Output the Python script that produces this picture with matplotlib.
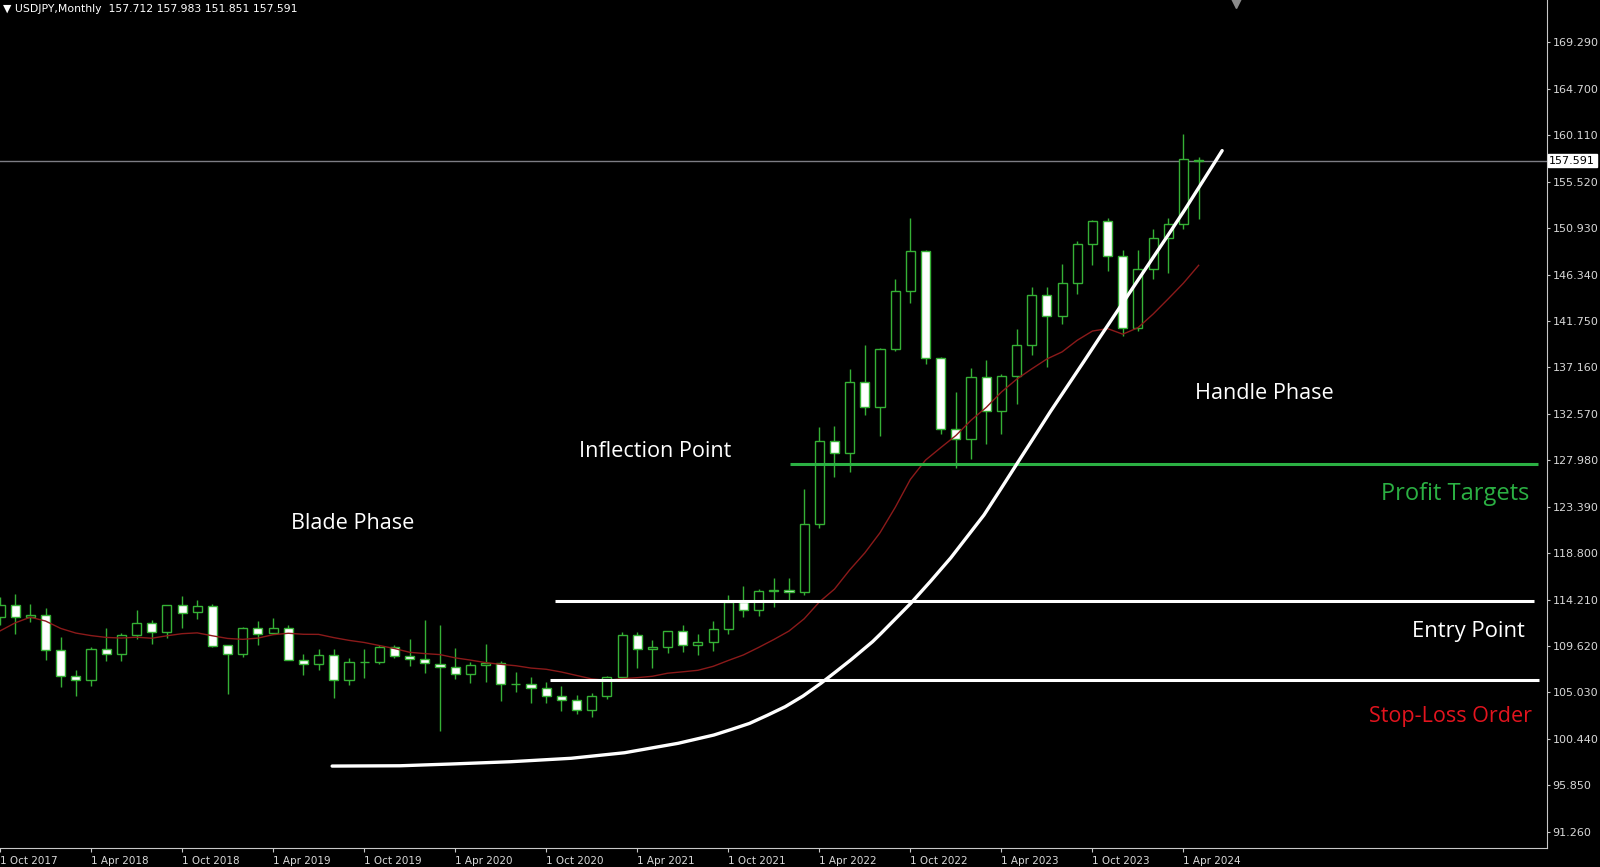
import matplotlib.pyplot as plt

# Velas mensuales USDJPY, de Oct 2017 a May 2024 (índice 0 = Oct 2017)
opens = [112.47, 113.66, 112.53,
         112.68, 109.18, 106.68, 106.26, 109.32, 108.79, 110.72, 111.86, 111.02, 113.69, 112.94, 113.55,
         109.68, 108.87, 111.38, 110.86, 111.43, 108.28, 107.85, 108.73, 106.28, 108.08, 108.03, 109.48,
         108.61, 108.37, 107.89, 107.53, 106.90, 107.78, 107.93, 105.83, 105.88, 105.48, 104.66, 104.30,
         103.25, 104.68, 106.58, 110.72, 109.31, 109.57, 111.11, 109.72, 110.03, 111.29, 113.95, 113.17,
         115.08, 115.12, 115.00, 121.70, 129.84, 128.67, 135.72, 133.26, 138.97, 144.74, 148.71, 138.05,
         131.12, 130.09, 136.18, 132.86, 136.31, 139.34, 144.31, 142.29, 145.54, 149.37, 151.68, 148.20,
         141.03, 146.91, 149.98, 151.35, 157.71]
highs = [114.45, 114.73, 113.75,
         113.39, 110.48, 107.29, 109.56, 111.40, 110.90, 113.18, 112.15, 113.70, 114.55, 114.21, 113.82,
         109.73, 111.49, 112.13, 112.40, 111.69, 108.80, 109.32, 109.30, 108.48, 109.29, 109.73, 109.70,
         110.29, 112.22, 111.71, 109.38, 108.08, 109.85, 108.16, 107.05, 106.55, 106.11, 105.68, 104.75,
         104.94, 106.69, 110.97, 110.96, 110.20, 111.12, 111.66, 110.80, 112.08, 114.70, 115.52, 115.21,
         116.35, 116.34, 125.10, 131.26, 131.35, 137.00, 139.39, 139.08, 145.90, 151.95, 148.82, 138.18,
         134.78, 137.10, 137.92, 136.56, 140.93, 145.07, 145.07, 147.37, 149.71, 151.72, 151.91, 148.80,
         148.81, 150.89, 151.97, 160.21, 157.98]
lows = [111.65, 110.84, 111.98,
        108.28, 105.55, 104.63, 105.66, 108.11, 108.12, 110.27, 109.77, 110.38, 111.38, 112.30, 109.54,
        104.87, 108.50, 109.70, 110.84, 108.27, 106.78, 107.22, 104.45, 105.74, 106.48, 107.89, 108.42,
        107.65, 107.00, 101.18, 106.36, 105.99, 106.07, 104.19, 105.10, 104.00, 104.03, 103.18, 102.88,
        102.59, 104.40, 106.36, 107.47, 107.48, 108.94, 109.07, 108.72, 109.11, 110.82, 112.53, 112.56,
        113.47, 114.15, 114.65, 121.28, 126.36, 126.86, 132.50, 130.39, 138.77, 143.53, 137.50, 130.57,
        127.22, 128.08, 129.64, 130.63, 133.50, 138.43, 137.24, 141.50, 144.44, 147.31, 146.67, 140.25,
        140.81, 145.90, 146.48, 150.81, 151.85]
closes = [113.67, 112.53, 112.67,
          109.18, 106.66, 106.27, 109.31, 108.81, 110.72, 111.85, 111.02, 113.69, 112.93, 113.56, 109.67,
          108.87, 111.39, 110.85, 111.42, 108.27, 107.84, 108.73, 106.27, 108.07, 108.03, 109.49, 108.68,
          108.37, 107.90, 107.53, 106.90, 107.77, 107.93, 105.83, 105.88, 105.48, 104.66, 104.30, 103.25,
          104.68, 106.58, 110.72, 109.31, 109.57, 111.11, 109.72, 110.03, 111.29, 113.95, 113.17, 115.08,
          115.12, 115.00, 121.70, 129.84, 128.67, 135.72, 133.26, 138.97, 144.74, 148.71, 138.05, 131.12,
          130.09, 136.18, 132.86, 136.31, 139.34, 144.31, 142.29, 145.54, 149.37, 151.68, 148.20, 141.03,
          146.91, 149.98, 151.35, 157.80, 157.59]
# media movil (linea roja)
ma14 = [111.11, 111.91, 112.47,
        112.09, 111.36, 110.90, 110.65, 110.47, 110.41, 110.49, 110.39, 110.63, 110.84, 110.92, 110.63,
        110.37, 110.28, 110.40, 110.74, 110.88, 110.78, 110.77, 110.45, 110.18, 109.97, 109.67, 109.37,
        109.00, 108.87, 108.77, 108.45, 108.23, 107.98, 107.81, 107.67, 107.44, 107.32, 107.05, 106.71,
        106.37, 106.22, 106.39, 106.49, 106.63, 106.93, 107.07, 107.22, 107.61, 108.19, 108.74, 109.48,
        110.26, 111.10, 112.31, 113.97, 115.25, 117.14, 118.83, 120.82, 123.32, 126.09, 128.00, 129.23,
        130.43, 131.94, 133.21, 134.73, 135.99, 137.02, 138.00, 138.70, 139.85, 140.76, 141.00, 140.45,
        141.09, 142.44, 143.95, 145.50, 147.26]

x_ticks = [0, 6, 12, 18, 24, 30, 36, 42, 48, 54, 60, 66, 72, 78]
x_labels = ['1 Oct 2017', '1 Apr 2018', '1 Oct 2018', '1 Apr 2019', '1 Oct 2019', '1 Apr 2020',
            '1 Oct 2020', '1 Apr 2021', '1 Oct 2021', '1 Apr 2022', '1 Oct 2022', '1 Apr 2023',
            '1 Oct 2023', '1 Apr 2024']
y_ticks = [91.26, 95.85, 100.44, 105.03, 109.62, 114.21, 118.80, 123.39, 127.98,
           132.57, 137.16, 141.75, 146.34, 150.93, 155.52, 160.11, 164.70, 169.29]
bid = 157.591
header = 'USDJPY,Monthly  157.712 157.983 151.851 157.591'

# niveles horizontales dibujados a mano
level_prices = [127.65, 114.07, 106.26]
level_start = [52.06, 36.59, 36.26]
level_end = [101.37, 101.11, 101.44]
level_colors = ['#2bb043', 'white', 'white']

# curva blanca (forma de "hockey stick")
curve_x = [21.89, 26.36, 29.65, 33.65, 37.64, 41.17, 44.69, 47.05, 48.22, 49.40, 50.57,
           51.75, 52.92, 54.10, 55.04, 56.08, 57.51, 58.05, 60.03, 61.34, 62.66, 63.76,
           64.85, 65.95, 67.05, 68.14, 69.24, 70.34, 71.44, 72.53, 73.63, 74.73, 75.83,
           76.93, 78.02, 79.33, 80.55]
curve_y = [97.75, 97.78, 97.95, 98.18, 98.52, 99.07, 100.00, 100.82, 101.38, 101.97, 102.77,
           103.62, 104.67, 105.93, 107.02, 108.25, 110.05, 110.84, 113.85, 116.04, 118.33, 120.46,
           122.57, 125.12, 127.70, 130.24, 132.82, 135.29, 137.76, 140.24, 142.71, 145.18, 147.65,
           150.12, 152.60, 155.70, 158.60]

fig = plt.figure(figsize=(16, 8.67), dpi=100, facecolor='black')
ax = fig.add_axes([0, 19 / 867, 1547 / 1600, 848 / 867], facecolor='black')

green = '#35b035'
xs = list(range(len(opens)))
bottoms = [min(o, c) for o, c in zip(opens, closes)]
heights = [abs(c - o) for o, c in zip(opens, closes)]
fills = ['black' if c >= o else 'white' for o, c in zip(opens, closes)]

# velas
ax.vlines(xs, lows, highs, color=green, lw=1, zorder=2)
ax.bar(xs, heights, bottom=bottoms, width=0.6, color=fills, edgecolor=green, linewidth=1, zorder=3)

# media movil
ax.plot(xs, ma14, color='#8b1a1a', lw=1, zorder=4)

# linea del precio actual
ax.axhline(bid, color='#7d7d84', lw=1, zorder=1)

# niveles y curva
ax.hlines(level_prices, level_start, level_end, colors=level_colors, lw=2.2, zorder=5)
ax.plot(curve_x, curve_y, color='white', lw=2.4, zorder=6, solid_capstyle='round',
        solid_joinstyle='round')

# textos
fnt = 'Open Sans'
ax.text(0.2282, 1 - 529 / 848, 'Blade Phase', transform=ax.transAxes, color='white',
        fontsize=15.6, family=fnt, ha='center', va='baseline')
ax.text(0.4234, 1 - 457 / 848, 'Inflection Point', transform=ax.transAxes, color='white',
        fontsize=15.6, family=fnt, ha='center', va='baseline')
ax.text(0.8171, 1 - 399 / 848, 'Handle Phase', transform=ax.transAxes, color='white',
        fontsize=15.6, family=fnt, ha='center', va='baseline')
ax.text(0.9409, 1 - 500 / 848, 'Profit Targets', transform=ax.transAxes, color='#2bb043',
        fontsize=17, family=fnt, ha='center', va='baseline')
ax.text(0.9489, 1 - 637 / 848, 'Entry Point', transform=ax.transAxes, color='white',
        fontsize=15.8, family=fnt, ha='center', va='baseline')
ax.text(0.9373, 1 - 722 / 848, 'Stop-Loss Order', transform=ax.transAxes, color='#e3141e',
        fontsize=15.5, family=fnt, ha='center', va='baseline')

# ejes estilo MT4
ax.set_xlim(0.12, 101.96)
ax.set_ylim(89.65, 173.49)
for s in ['left', 'top']:
    ax.spines[s].set_visible(False)
for s in ['right', 'bottom']:
    ax.spines[s].set_color('#c8c8c8')
ax.yaxis.tick_right()
ax.set_yticks(y_ticks)
ax.set_yticklabels([f'{v:.3f}' for v in y_ticks])
ax.tick_params(axis='y', colors='#c8c8c8', labelcolor='#d8d8d8', labelsize=8, length=2.5, pad=1.5)
ax.set_xticks(x_ticks)
ax.set_xticklabels([])
ax.tick_params(axis='x', colors='#c8c8c8', length=3)
for t, lab in zip(x_ticks, x_labels):
    ax.text(t, -0.009, lab, transform=ax.get_xaxis_transform(), ha='left', va='top',
            color='#d8d8d8', fontsize=7.5, clip_on=False)

# etiqueta del precio actual
ax.text(1.0015, bid, '157.591', transform=ax.get_yaxis_transform(), ha='left', va='center',
        fontsize=8, color='black', clip_on=False, zorder=10,
        bbox=dict(boxstyle='square,pad=0.15', facecolor='white', edgecolor='white'))

# cabecera y marcador arriba
fig.text(3 / 1600, 1 - 9 / 867, '\u25bc ' + header, color='white', fontsize=7.8, va='center', ha='left')
ax.plot([0.799], [0.9975], marker='v', color='#8a8a8a', markersize=8, transform=ax.transAxes, clip_on=False)

fig.savefig('out.png', dpi=100, facecolor='black')
